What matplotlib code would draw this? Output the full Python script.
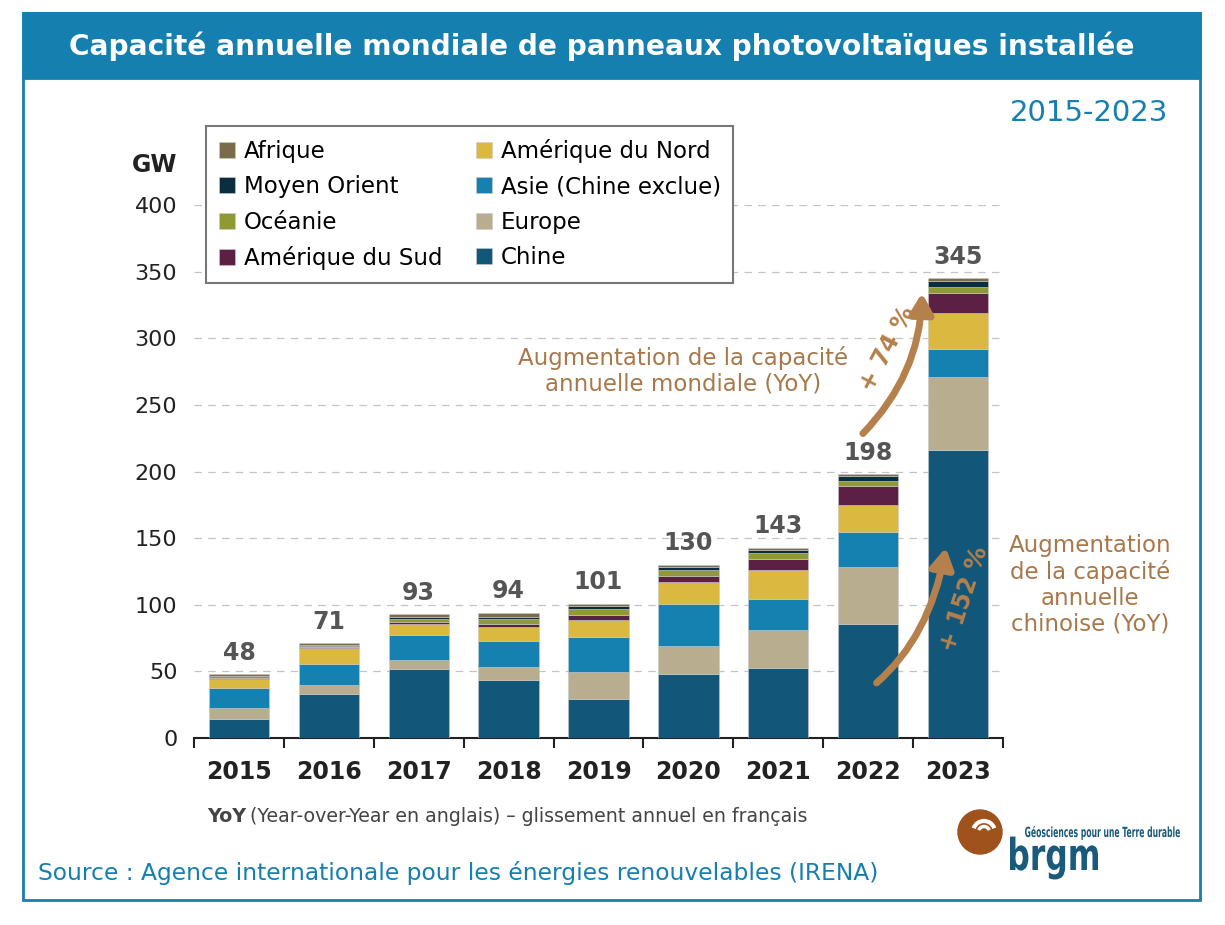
import matplotlib.pyplot as plt
from matplotlib.patches import Patch, Rectangle, Circle, FancyArrowPatch, Arc, PathPatch
from matplotlib.textpath import TextPath
from matplotlib.font_manager import FontProperties
from matplotlib.transforms import Affine2D

# donnees (GW)
annees = ['2015', '2016', '2017', '2018', '2019', '2020', '2021', '2022', '2023']
totaux = [48, 71, 93, 94, 101, 130, 143, 198, 345]

chine = [14.6, 33.3, 52.1, 43.8, 29.3, 48.3, 52.5, 85.3, 216.4]
europe = [8.2, 6.8, 6.4, 9.3, 20.5, 20.5, 28.3, 43.1, 54.5]
asie = [14.7, 15.7, 18.6, 19.7, 25.8, 31.8, 23.5, 26.5, 20.8]
am_nord = [7.1, 11.7, 8.8, 10.3, 13.3, 16.3, 21.6, 19.7, 27.2]
am_sud = [0.7, 0.8, 1.5, 2.5, 3.4, 5.0, 8.2, 14.2, 15.3]
oceanie = [1.0, 1.0, 2.0, 3.7, 4.3, 4.5, 5.0, 4.0, 4.0]
moyen_orient = [0.5, 0.5, 1.5, 1.5, 2.8, 2.0, 2.3, 4.0, 5.0]
afrique = [1.0, 1.2, 2.1, 3.0, 1.5, 1.4, 1.2, 1.5, 1.8]

series = [
    ('Chine', chine, '#12577a'),
    ('Europe', europe, '#b8ad8f'),
    ('Asie (Chine exclue)', asie, '#1581b0'),
    ('Amérique du Nord', am_nord, '#dbb840'),
    ('Amérique du Sud', am_sud, '#5c2045'),
    ('Océanie', oceanie, '#8f9a35'),
    ('Moyen Orient', moyen_orient, '#0a2e40'),
    ('Afrique', afrique, '#7a6b4a'),
]
couleurs = {nom: c for nom, _, c in series}

bleu = '#1580b0'
brun = '#b5804b'
bleu_logo = '#1a5a7a'

fig = plt.figure(figsize=(12.25, 9.25), dpi=100)

# cadre et bandeau titre
fig.patches.append(Rectangle((23/1225, 1-900/925), 1177/1225, 887/925, transform=fig.transFigure,
                             fill=False, edgecolor=bleu, lw=2))
fig.patches.append(Rectangle((23/1225, 1-78/925), 1177/1225, 65/925, transform=fig.transFigure,
                             facecolor=bleu, edgecolor=bleu, lw=2))
fig.text(602/1225, 1-46/925, 'Capacité annuelle mondiale de panneaux photovoltaïques installée',
         color='white', fontsize=20.2, fontweight='bold', ha='center', va='center')
fig.text(1168/1225, 1-113/925, '2015-2023', color=bleu, fontsize=21, ha='right', va='center')

ax = fig.add_axes([194/1225, 1-738/925, 809/1225, 533/925])
x = range(len(annees))
bas = [0]*len(annees)
for nom, vals, c in series:
    ax.bar(x, vals, width=0.67, bottom=bas, color=c, edgecolor='#c8c8c8', linewidth=0.4, zorder=3)
    bas = [b + v for b, v in zip(bas, vals)]

for i, t in enumerate(totaux):
    ax.text(i, t + 7, str(t), ha='center', va='bottom', fontsize=17, fontweight='bold', color='#555555')

ax.set_xlim(-0.5, 8.5)
ax.set_ylim(0, 400)
ax.set_yticks(range(0, 401, 50))
ax.set_yticklabels([str(v) for v in range(0, 401, 50)], fontsize=16, color='#222222')
ax.set_xticks([i + 0.5 for i in range(-1, 9)])
ax.set_xticklabels([])
ax.set_xticks(list(x), minor=True)
ax.set_xticklabels(annees, minor=True, fontsize=17, fontweight='bold', color='#222222')
ax.tick_params(axis='x', which='minor', length=0, pad=16)
ax.tick_params(axis='x', which='major', length=7, width=1.5, color='#222222')
ax.tick_params(axis='y', length=0, pad=12)
for s in ['top', 'right', 'left']:
    ax.spines[s].set_visible(False)
ax.spines['bottom'].set_linewidth(1.5)
ax.spines['bottom'].set_color('#222222')
ax.yaxis.grid(True, linestyle=(0, (6, 5)), color='#c4c4c4', lw=0.9, zorder=0)
ax.set_axisbelow(True)
fig.text(132/1225, 1-165/925, 'GW', fontsize=17, fontweight='bold', color='#222222', va='center')

# legende
ordre = ['Afrique', 'Moyen Orient', 'Océanie', 'Amérique du Sud',
         'Amérique du Nord', 'Asie (Chine exclue)', 'Europe', 'Chine']
poignees = [Patch(facecolor=couleurs[n], edgecolor='#cccccc', lw=0.4, label=n) for n in ordre]
leg = fig.legend(handles=poignees, ncol=2, loc='upper left', bbox_to_anchor=(206/1225, 1-126/925),
                 fontsize=16.5, frameon=True, fancybox=False, edgecolor='#777777', framealpha=1,
                 handlelength=0.7, handleheight=0.7, handletextpad=0.4, columnspacing=1.45,
                 labelspacing=0.55, borderpad=0.55, borderaxespad=0)
leg.get_frame().set_linewidth(1.5)

# fleches et annotations
ax.add_patch(FancyArrowPatch((6.92, 227), (7.6, 336), connectionstyle='arc3,rad=0.2',
                             arrowstyle='-|>,head_length=12,head_width=7', color=brun, lw=5, zorder=5))
ax.add_patch(FancyArrowPatch((7.07, 40), (7.87, 145), connectionstyle='angle3,angleA=40,angleB=80',
                             arrowstyle='-|>,head_length=12,head_width=7', color=brun, lw=5, zorder=5))
ax.text(7.22, 292, '+ 74 %', rotation=62, color=brun, fontsize=17, fontweight='bold',
        ha='center', va='center', zorder=6)
ax.text(8.07, 104, '+ 152 %', rotation=72, color=brun, fontsize=17, fontweight='bold',
        ha='center', va='center', zorder=6)
fig.text(683/1225, 1-371/925, 'Augmentation de la capacité\nannuelle mondiale (YoY)', color='#a8784a',
         fontsize=16.5, ha='center', va='center', linespacing=1.15)
fig.text(1090/1225, 1-585/925, 'Augmentation\nde la capacité\nannuelle\nchinoise (YoY)', color='#a8784a',
         fontsize=16.5, ha='center', va='center', linespacing=1.15)

# notes
fig.text(207/1225, 1-816/925, 'YoY', fontsize=13.7, fontweight='bold', color='#444444', va='center')
fig.text(250/1225, 1-816/925, '(Year-over-Year en anglais) – glissement annuel en français',
         fontsize=13.7, color='#444444', va='center')
fig.text(38/1225, 1-873/925, 'Source : Agence internationale pour les énergies renouvelables (IRENA)',
         fontsize=16.8, color=bleu, va='center')

# logo brgm (coordonnees en pixels dans un petit axe)
lax = fig.add_axes([955/1225, 1-900/925, 240/1225, 95/925])
lax.set_xlim(0, 240)
lax.set_ylim(95, 0)
lax.axis('off')
lax.add_patch(Circle((25, 27), 22, color='#a0521c'))
lax.add_patch(Arc((29, 27), 22, 22, theta1=200, theta2=340, color='white', lw=3))
lax.add_patch(Arc((29, 27), 11, 11, theta1=200, theta2=340, color='white', lw=2.5))


def texte_logo(txt, x0, base, largeur, hauteur, gras):
    tp = TextPath((0, 0), txt, size=40, prop=FontProperties(weight='bold' if gras else 'normal'))
    ext = tp.get_extents()
    sx = largeur / ext.width
    sy = hauteur / 40
    tr = Affine2D().translate(-ext.x0, 0).scale(sx, -sy).translate(x0, base)
    lax.add_patch(PathPatch(tr.transform_path(tp), color=bleu_logo, lw=0))


texte_logo('Géosciences pour une Terre durable', 70, 32, 155, 14, True)
texte_logo('brgm', 55, 65, 88, 44, True)

fig.savefig('out.png', dpi=100)
